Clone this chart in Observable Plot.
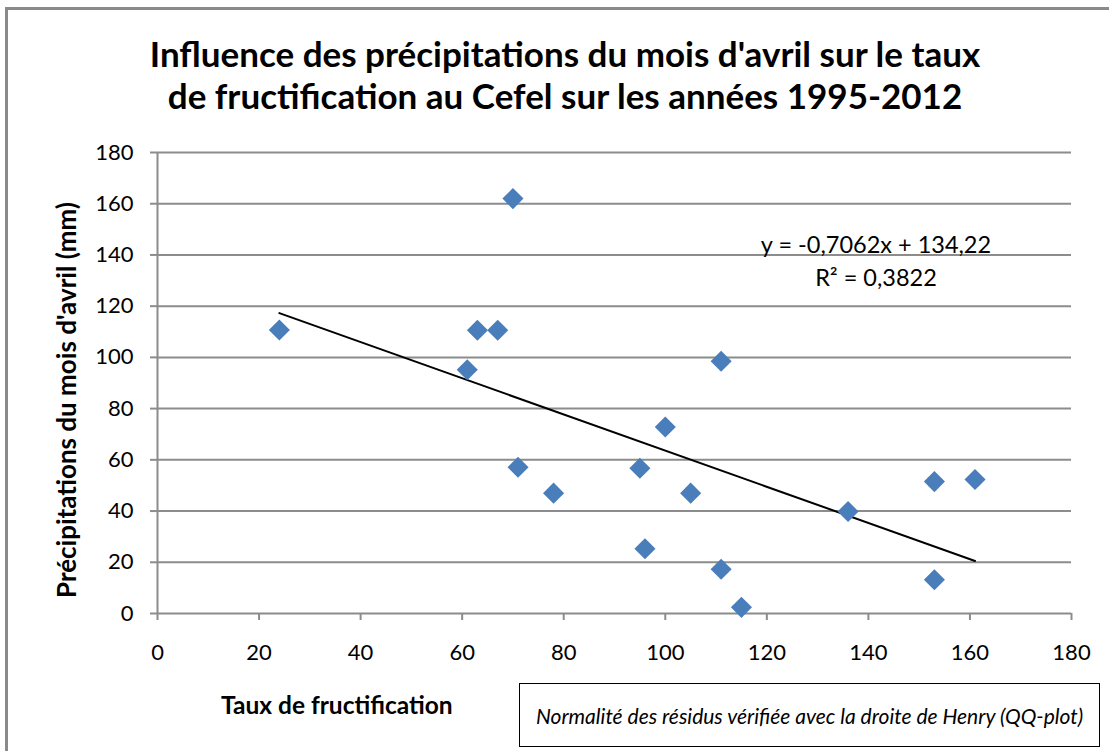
<!DOCTYPE html>
<html>
<head>
<meta charset="utf-8">
<script src="https://cdn.jsdelivr.net/npm/d3@7"></script>
<script src="https://cdn.jsdelivr.net/npm/@observablehq/plot@0.6"></script>
<style>
  html, body { margin: 0; padding: 0; background: #fff; overflow: hidden; }
  #wrap { position: relative; width: 1109px; height: 751px; font-family: Lato, "Open Sans", sans-serif; color: #000; }
  #frame { position: absolute; left: 5px; top: 7px; width: 1200px; height: 900px; border-left: 3px solid #8a8a8a; border-top: 3px solid #8a8a8a; }
  #chart { position: absolute; left: 0; top: 0; }
  .title { position: absolute; left: 0; width: 1130px; text-align: center; font-weight: 700; font-size: 35px; line-height: 42px; top: 32px; }
  .ylabel { position: absolute; left: 66px; top: 400px; width: 0; height: 0; }
  .ylabel span { position: absolute; left: 0; top: 0; transform: translate(-50%, -50%) rotate(-90deg); white-space: nowrap; font-weight: 700; font-size: 26px; line-height: 1; }
  .xlabel { position: absolute; left: 221px; top: 690px; white-space: nowrap; font-weight: 700; font-size: 24.5px; line-height: 30px; }
  .eq { position: absolute; left: 726px; width: 300px; text-align: center; font-size: 23.5px; line-height: 30px; white-space: nowrap; }
  .note { position: absolute; left: 519px; top: 683px; width: 581px; height: 64px; border: 1.5px solid #000; box-sizing: border-box; display: flex; align-items: center; justify-content: center; font-style: italic; font-size: 21px; white-space: nowrap; }
</style>
</head>
<body>
<div id="wrap">
  <div id="frame"></div>
  <div id="chart"></div>
  <div class="title">Influence des précipitations du mois d'avril sur le taux<br>de fructification au Cefel sur les années 1995-2012</div>
  <div class="ylabel"><span>Précipitations du mois d'avril (mm)</span></div>
  <div class="xlabel">Taux de fructification</div>
  <div class="eq" style="top:229px">y = -0,7062x + 134,22</div>
  <div class="eq" style="top:262px">R² = 0,3822</div>
  <div class="note">Normalité des résidus vérifiée avec la droite de Henry (QQ-plot)</div>
</div>
<script>
// Taux de fructification (x) and April precipitation in mm (y), 1995-2012
const taux = [24, 70, 63, 67, 61, 71, 78, 95, 100, 96, 105, 111, 111, 115, 136, 153, 161, 153];
const precip = [110.7, 162, 110.6, 110.6, 95.2, 57.1, 47.0, 56.7, 72.8, 25.3, 47.0, 98.5, 17.3, 2.4, 39.8, 51.5, 52.3, 13.2];
const xTicks = [0, 20, 40, 60, 80, 100, 120, 140, 160, 180];
const yTicks = [0, 20, 40, 60, 80, 100, 120, 140, 160, 180];
const slope = -0.7062;
const intercept = 134.22;

const points = taux.map((t, i) => ({x: t, y: precip[i]}));
const ext = d3.extent(taux);
const trend = ext.map(x => ({x, y: slope * x + intercept}));

const gray = "#8c8c8c";
const plot = Plot.plot({
  width: 1109,
  height: 751,
  marginLeft: 157,
  marginRight: 38,
  marginTop: 152,
  marginBottom: 138,
  style: {fontFamily: "Lato, 'Open Sans', sans-serif", fontSize: "22px", color: "#000", background: "transparent"},
  x: {domain: [0, 180]},
  y: {domain: [0, 180]},
  marks: [
    Plot.gridY(yTicks, {stroke: gray, strokeOpacity: 1, strokeWidth: 2}),
    Plot.ruleX([0], {stroke: gray, strokeWidth: 2}),
    Plot.axisY(yTicks, {tickSize: 7, tickPadding: 17, stroke: gray, strokeWidth: 2, fill: "#000", label: null, fontSize: 22}),
    Plot.axisX(xTicks, {tickSize: 7, tickPadding: 24, stroke: gray, strokeWidth: 2, fill: "#000", label: null, fontSize: 22}),
    Plot.line(trend, {x: "x", y: "y", stroke: "#000", strokeWidth: 2}),
    Plot.dot(points, {x: "x", y: "y", symbol: "diamond2", r: 9.5, fill: "#4a7ebb", stroke: "none"})
  ]
});
document.getElementById("chart").appendChild(plot);
</script>
</body>
</html>
